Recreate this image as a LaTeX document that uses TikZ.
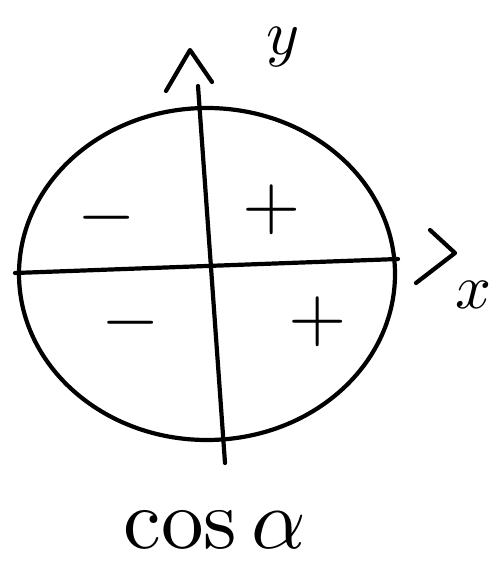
\documentclass[tikz,border=0pt]{standalone}
\usepackage{amsmath}
\begin{document}
\begin{tikzpicture}[x=1pt,y=-1pt,line cap=round,line join=round]

\tikzset{
  pen/.style={line width=4.2pt},
  sign/.style={scale=7.5},
  letter/.style={scale=6.3}
}

\useasboundingbox (0,0) rectangle (498,572);

% Circulo
\draw[pen] (207,274) ellipse (188 and 166);

% Ejes
\coordinate (xl) at (15,273);
\coordinate (xr) at (398,259);
\coordinate (yt) at (198,86);
\coordinate (yb) at (225,463);
\draw[pen] (xl) -- (xr);
\draw[pen] (yt) -- (yb);

% Puntas de flecha
\draw[pen] (166,91) -- (190,50) -- (212,82);
\draw[pen] (430,230) -- (455,253) -- (416,283);

% Etiquetas
\node[letter] (ylab) at (283,47) {$y$};
\node[letter] (xlab) at (473,295) {$x$};

% Signos
\node[sign] (s1) at (107,218) {$-$};
\node[sign] (s2) at (272,210) {$+$};
\node[sign] (s3) at (131,323) {$-$};
\node[sign] (s4) at (318,322) {$+$};

% Texto inferior
\node[scale=8.5] (lab) at (215,530) {$\cos\alpha$};

\end{tikzpicture}
\end{document}
